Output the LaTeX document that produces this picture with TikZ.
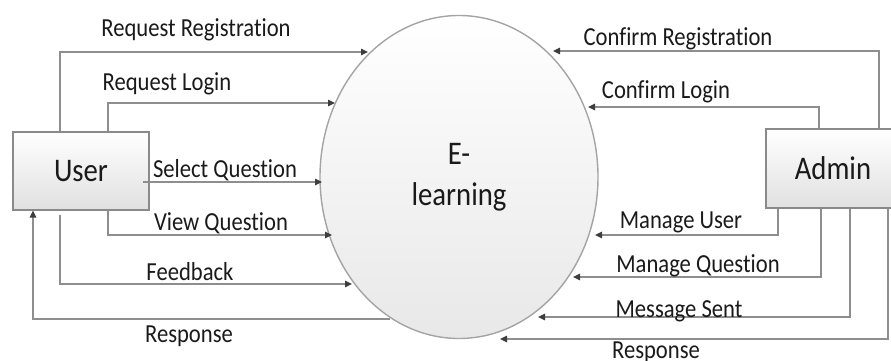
\documentclass[tikz,border=0pt]{standalone}
\usepackage{fontspec}
\setmainfont{Carlito}[FakeStretch=0.87, Ligatures=NoCommon, RawFeature=-liga]
\usetikzlibrary{arrows.meta,shapes.geometric}
\definecolor{linegray}{HTML}{8E8E8E}
\definecolor{tipgray}{HTML}{3E3E3E}
\definecolor{edgegray}{HTML}{8A8A8A}
\definecolor{circgray}{HTML}{A4A4A4}
\definecolor{textcol}{HTML}{1A1A1A}
\begin{document}
\begin{tikzpicture}[x=1pt,y=-1pt,
  flow/.style={draw=linegray, line width=1.3pt, -{Triangle[length=7pt,width=6.5pt,color=tipgray]}},
  lbl/.style={font=\fontsize{26}{30}\selectfont, text=textcol, anchor=base, inner sep=0pt},
  entity/.style={draw=edgegray, line width=1.2pt, top color=white, bottom color=black!12,
    font=\fontsize{33}{40}\selectfont, text=textcol, inner sep=0pt},
  process/.style={ellipse, draw=circgray, line width=1.4pt, shading=axis, shading angle=45,
    top color=white, bottom color=black!9, align=center,
    font=\fontsize{33}{41}\selectfont, text=textcol, inner sep=0pt}]
\useasboundingbox (0,0) rectangle (891,361);

% main nodes
\node[process, minimum width=278pt, minimum height=323pt] (el) at (459,177) {E-\\learning};
\node[entity, minimum width=136pt, minimum height=78pt] (user) at (81,171) {User};
\node[entity, minimum width=134pt, minimum height=79pt] (admin) at (833,168.5) {Admin};

% helper coordinates (corners and arrow ends)
\coordinate (rrC) at (60,52);   \coordinate (rrE) at (368,52);
\coordinate (rlC) at (108,103); \coordinate (rlE) at (335,103);
\coordinate (sqS) at (143,182); \coordinate (sqE) at (322,182);
\coordinate (vqC) at (108,235); \coordinate (vqE) at (332,235);
\coordinate (fbS) at (60,215);  \coordinate (fbE) at (352,284);
\coordinate (rpS) at (390,319); \coordinate (rpC) at (33,319);

\coordinate (crC) at (879,51);  \coordinate (crE) at (553,51);
\coordinate (clC) at (819,107); \coordinate (clE) at (588,107);
\coordinate (muC) at (778,235); \coordinate (muE) at (595,235);
\coordinate (mqC) at (821,277); \coordinate (mqE) at (573,277);
\coordinate (msC) at (850,317); \coordinate (msE) at (538,317);
\coordinate (rsC) at (888,339); \coordinate (rsE) at (500,339);

% user flows
\draw[flow] (user.north -| rrC) |- (rrE);
\draw[flow] (user.north -| rlC) |- (rlE);
\draw[flow] (sqS) -- (sqE);
\draw[flow] (user.south -| vqC) |- (vqE);
\draw[flow] (fbS) |- (fbE);
\draw[flow] (rpS) -| (user.south -| rpC);

% admin flows
\draw[flow] (admin.north -| crC) |- (crE);
\draw[flow] (admin.north -| clC) |- (clE);
\draw[flow] (admin.south -| muC) |- (muE);
\draw[flow] (admin.south -| mqC) |- (mqE);
\draw[flow] (admin.south -| msC) |- (msE);
\draw[flow] (admin.south -| rsC) |- (rsE);

% labels
\node[lbl] (tRR) at (196,37) {Request Registration};
\node[lbl] (tRL) at (167,90) {Request Login};
\node[lbl] (tSQ) at (225,177) {Select Question};
\node[lbl] (tVQ) at (221,230) {View Question};
\node[lbl] (tFB) at (190,280) {Feedback};
\node[lbl] (tRP) at (189,342) {Response};

\node[lbl] (tCR) at (678,46) {Confirm Registration};
\node[lbl] (tCL) at (666,98) {Confirm Login};
\node[lbl] (tMU) at (681,228) {Manage User};
\node[lbl] (tMQ) at (698,272) {Manage Question};
\node[lbl] (tMS) at (679,317) {Message Sent};
\node[lbl] (tRS) at (656,358) {Response};
\end{tikzpicture}
\end{document}
